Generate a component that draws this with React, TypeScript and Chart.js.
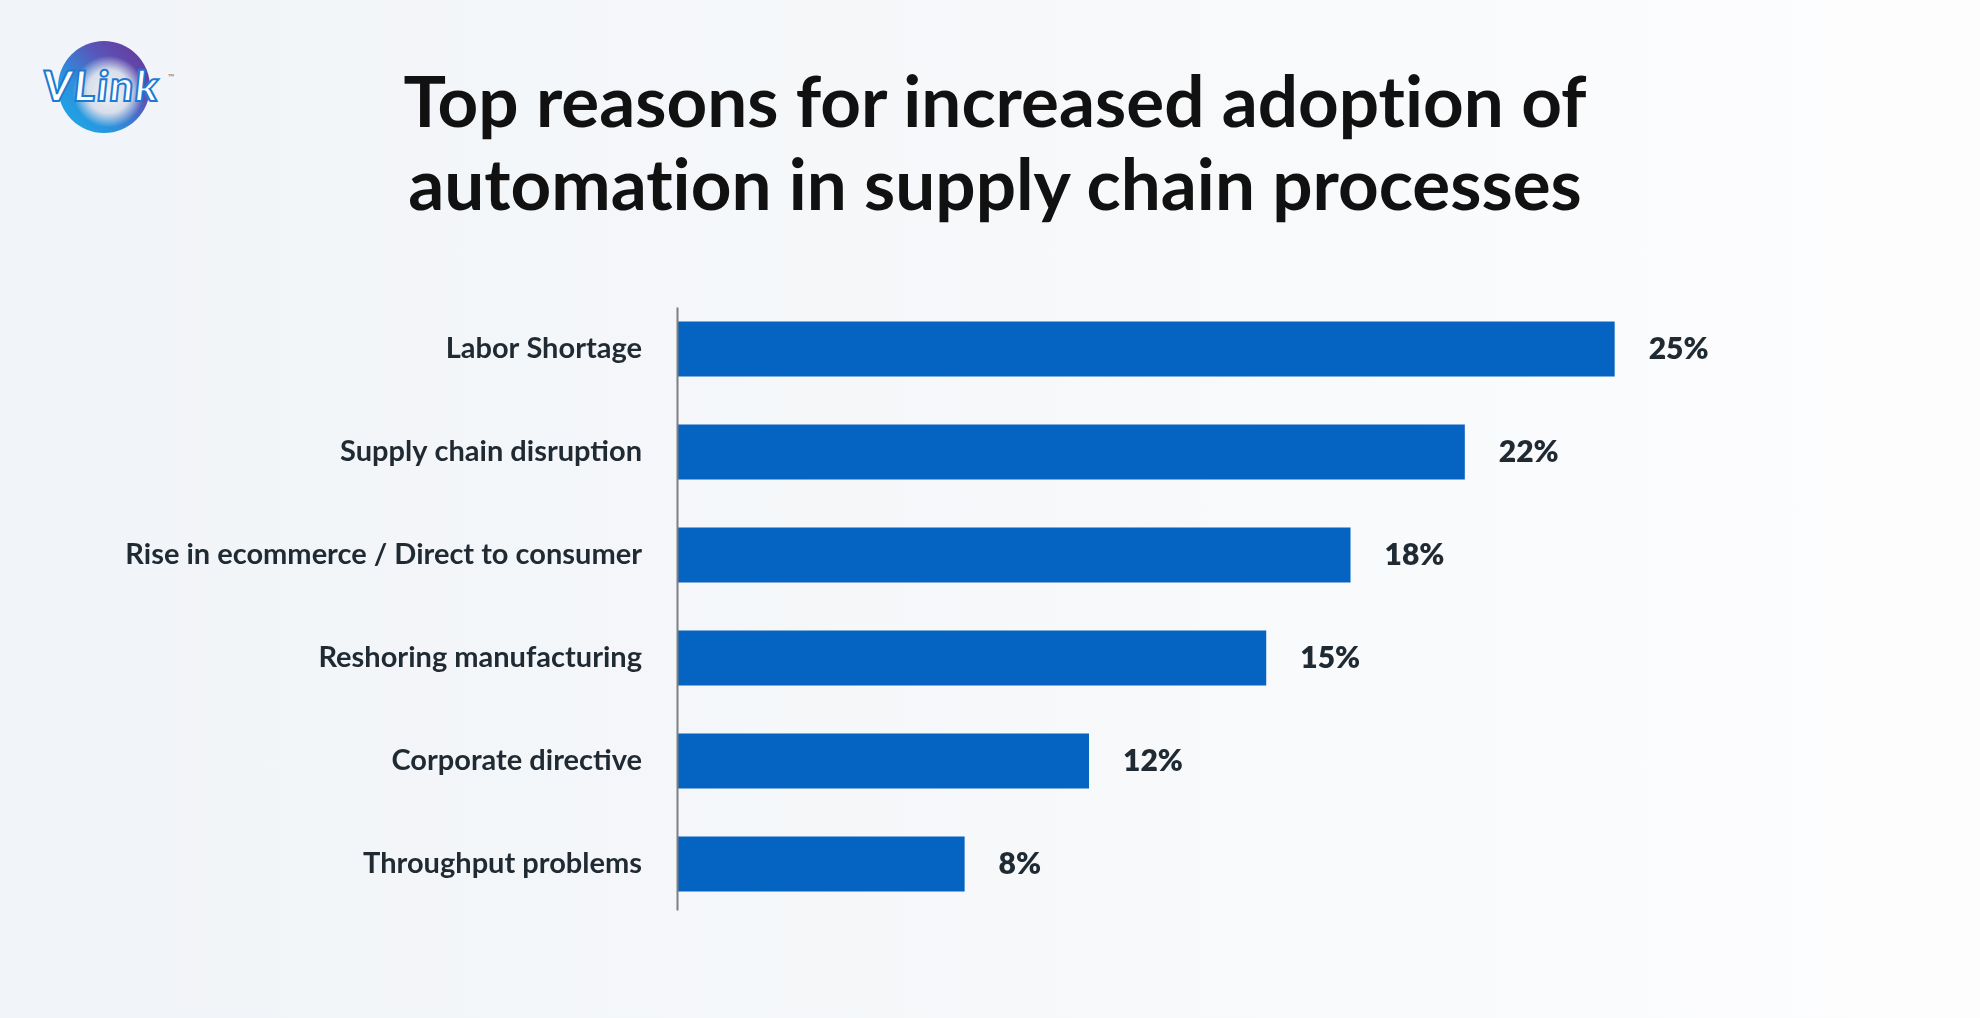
import React, { useEffect, useRef } from "react";
import { Chart, registerables } from "chart.js";

Chart.register(...registerables);

const titleLines = [
  "Top reasons for increased adoption of",
  "automation in supply chain processes",
];
const categories = [
  "Labor Shortage",
  "Supply chain disruption",
  "Rise in ecommerce / Direct to consumer",
  "Reshoring manufacturing",
  "Corporate directive",
  "Throughput problems",
];
// bar lengths as drawn in the picture (percent)
const barValues = [25, 21, 17.95, 15.7, 10.97, 7.65];
// value labels printed next to the bars
const valueLabels = ["25%", "22%", "18%", "15%", "12%", "8%"];

const BAR_COLOR = "#0563c1";
const TEXT_COLOR = "#1f2a33";

const valueLabelPlugin = {
  id: "valueLabels",
  afterDatasetsDraw(chart: any) {
    const ctx = chart.ctx;
    const meta = chart.getDatasetMeta(0);
    ctx.save();
    ctx.font = "800 30px Lato";
    ctx.fillStyle = TEXT_COLOR;
    ctx.textAlign = "left";
    ctx.textBaseline = "middle";
    meta.data.forEach((el: any, i: number) => {
      ctx.fillText(valueLabels[i], el.x + 34, el.y);
    });
    ctx.restore();
  },
};

const axisLinePlugin = {
  id: "axisLine",
  afterDatasetsDraw(chart: any) {
    const { ctx, chartArea } = chart;
    ctx.save();
    ctx.strokeStyle = "#7f7f7f";
    ctx.lineWidth = 2;
    ctx.beginPath();
    ctx.moveTo(chartArea.left - 0.5, chartArea.top + 10);
    ctx.lineTo(chartArea.left - 0.5, chartArea.bottom - 5);
    ctx.stroke();
    ctx.restore();
  },
};

export default function App() {
  const canvasRef = useRef<HTMLCanvasElement | null>(null);

  useEffect(() => {
    if (!canvasRef.current) return;
    const chart = new Chart(canvasRef.current, {
      type: "bar",
      data: {
        labels: categories,
        datasets: [
          {
            data: barValues,
            backgroundColor: BAR_COLOR,
            borderWidth: 0,
            barPercentage: 0.534,
            categoryPercentage: 1,
          },
        ],
      },
      options: {
        indexAxis: "y",
        responsive: false,
        animation: false,
        layout: { padding: { left: 0, right: 178, top: 297.5, bottom: 102.5 } },
        plugins: {
          legend: { display: false },
          tooltip: { enabled: false },
          title: { display: false },
        },
        scales: {
          x: { display: false, min: 0, max: 30 },
          y: {
            grid: { display: false, drawTicks: false },
            border: { display: false },
            ticks: {
              color: TEXT_COLOR,
              font: { family: "Lato", size: 29, weight: "700" },
              padding: 36,
            },
            afterFit: (scale: any) => {
              scale.width = 678;
            },
          },
        },
      },
      plugins: [valueLabelPlugin, axisLinePlugin],
    } as any);
    return () => chart.destroy();
  }, []);

  return (
    <div
      style={{
        position: "fixed",
        left: 0,
        top: 0,
        width: 1980,
        height: 1018,
        overflow: "hidden",
        background: "linear-gradient(90deg, #f1f4f8 0%, #f6f8fa 50%, #fdfdfe 100%)",
      }}
    >
      {/* logo */}
      <div
        style={{
          position: "absolute",
          left: 58,
          top: 41,
          width: 92,
          height: 92,
          borderRadius: "50%",
          background:
            "radial-gradient(circle at 55% 55%, #f2f4f8 0%, #d7deea 30%, rgba(200,210,230,0) 50%), linear-gradient(45deg, #17b0ea 0%, #2d8fdc 35%, #5a55b8 65%, #6b2f94 100%)",
        }}
      />
      <div
        style={{
          position: "absolute",
          left: 43,
          top: 60,
          font: "900 42px Lato",
          color: "#ffffff",
          WebkitTextStroke: "2px #1c7ad2",
          letterSpacing: 1.5,
          transform: "skewX(-6deg)",
        }}
      >
        VLink
      </div>
      <div
        style={{
          position: "absolute",
          left: 168,
          top: 72,
          font: "700 8px Lato",
          color: "#8a8a9a",
        }}
      >
        ™
      </div>
      {/* title */}
      <div
        style={{
          position: "absolute",
          left: 10,
          top: 58,
          width: 1970,
          textAlign: "center",
          font: "700 71px Lato",
          lineHeight: "83px",
          color: "#111111",
          fontVariantLigatures: "none",
        }}
      >
        {titleLines.map((t, i) => (
          <div key={i}>{t}</div>
        ))}
      </div>
      <canvas
        ref={canvasRef}
        width={1980}
        height={1018}
        style={{ position: "absolute", left: 0, top: 0, width: 1980, height: 1018 }}
      />
    </div>
  );
}
